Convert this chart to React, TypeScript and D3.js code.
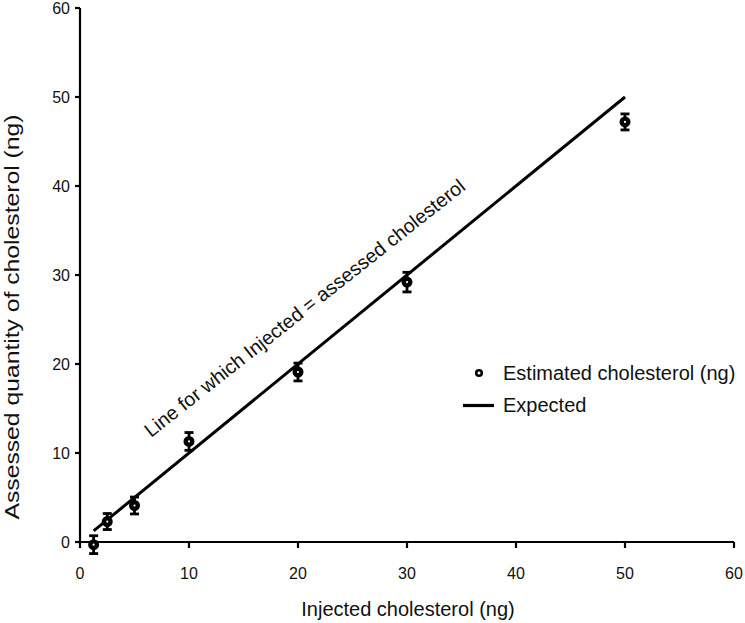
import React from "react";
import * as d3 from "d3";

const injected = [1.25, 2.5, 5, 10, 20, 30, 50];
const estimated = [-0.3, 2.3, 4.1, 11.3, 19.1, 29.2, 47.2];
const errors = [1.0, 0.9, 0.95, 1.0, 1.0, 1.1, 0.9];
const expectedX = [1.25, 50];
const expectedY = [1.25, 50];
const xTicks = [0, 10, 20, 30, 40, 50, 60];
const yTicks = [0, 10, 20, 30, 40, 50, 60];

const W = 745;
const H = 623;
const font = "Arial, 'Liberation Sans', sans-serif";

export default function App() {
  const x = d3.scaleLinear().domain([0, 60]).range([80, 734]);
  const y = d3.scaleLinear().domain([0, 60]).range([542, 8]);
  const line = d3
    .line<number>()
    .x((_, i) => x(expectedX[i]))
    .y((_, i) => y(expectedY[i]));

  return (
    <svg
      width={W}
      height={H}
      style={{ position: "absolute", left: 0, top: 0, background: "#fff" }}
      fontFamily={font}
      fill="#111"
    >
      {/* axes */}
      <line x1={x(0)} x2={x(60)} y1={y(0)} y2={y(0)} stroke="#000" strokeWidth={2.2} />
      <line x1={x(0)} x2={x(0)} y1={y(0)} y2={y(60)} stroke="#000" strokeWidth={2.2} />
      {xTicks.map((t) => (
        <g key={"x" + t}>
          <line x1={x(t)} x2={x(t)} y1={y(0)} y2={y(0) + 6} stroke="#000" strokeWidth={2.2} />
          <text x={x(t)} y={579} textAnchor="middle" fontSize={16}>
            {t}
          </text>
        </g>
      ))}
      {yTicks.map((t) => (
        <g key={"y" + t}>
          <line x1={x(0) - 5} x2={x(0)} y1={y(t)} y2={y(t)} stroke="#000" strokeWidth={2.2} />
          <text x={70} y={y(t) + 5.5} textAnchor="end" fontSize={16}>
            {t}
          </text>
        </g>
      ))}
      <text x={408} y={616} textAnchor="middle" fontSize={20}>
        Injected cholesterol (ng)
      </text>
      <text
        transform={`translate(19,317) rotate(-90)`}
        textAnchor="middle"
        fontSize={19.5}
        textLength={405}
        lengthAdjust="spacingAndGlyphs"
      >
        Assessed quantity of cholesterol (ng)
      </text>

      {/* expected line */}
      <path d={line(expectedX) || ""} fill="none" stroke="#000" strokeWidth={3} />

      {/* data with error bars */}
      {injected.map((v, i) => {
        const cx = x(v);
        const top = y(estimated[i] + errors[i]);
        const bot = y(estimated[i] - errors[i]);
        return (
          <g key={"p" + i}>
            <line x1={cx} x2={cx} y1={top} y2={bot} stroke="#000" strokeWidth={2.8} />
            <line x1={cx - 4.5} x2={cx + 4.5} y1={top} y2={top} stroke="#000" strokeWidth={2.8} />
            <line x1={cx - 4.5} x2={cx + 4.5} y1={bot} y2={bot} stroke="#000" strokeWidth={2.8} />
            <circle cx={cx} cy={y(estimated[i])} r={3.3} fill="#fff" stroke="#000" strokeWidth={4.4} />
          </g>
        );
      })}

      {/* annotation */}
      <text transform="translate(151,438) rotate(-38.3)" fontSize={19.7}>
        Line for which Injected = assessed cholesterol
      </text>

      {/* legend */}
      <circle cx={479} cy={373} r={2.8} fill="#fff" stroke="#000" strokeWidth={2.6} />
      <text x={503} y={380} fontSize={20}>
        Estimated cholesterol (ng)
      </text>
      <line x1={463} x2={494} y1={405.5} y2={405.5} stroke="#000" strokeWidth={3.2} />
      <text x={503} y={412} fontSize={20}>
        Expected
      </text>
    </svg>
  );
}
